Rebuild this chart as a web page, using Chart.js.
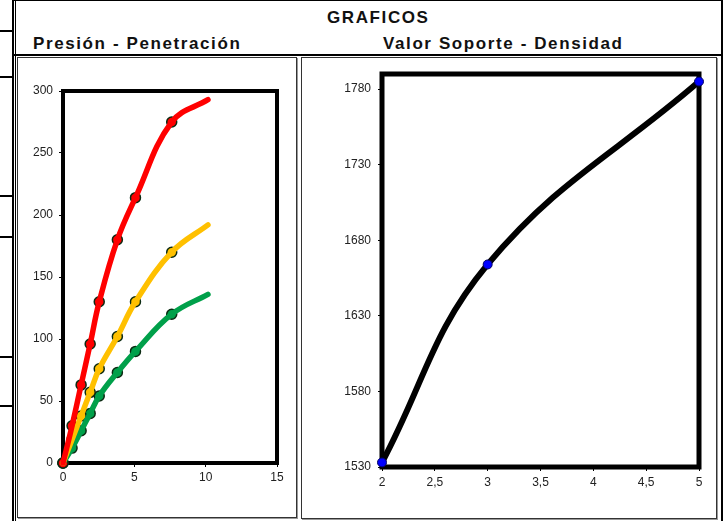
<!DOCTYPE html>
<html><head><meta charset="utf-8">
<script src="https://cdn.jsdelivr.net/npm/chart.js@4"></script>
<style>
body{margin:0;background:#fff;width:724px;height:521px;position:relative;overflow:hidden;font-family:"Liberation Sans",Arial,sans-serif;}
.a{position:absolute;}
.ln{position:absolute;background:#000;}
.t{position:absolute;font-weight:bold;font-size:17px;letter-spacing:1.6px;color:#111;white-space:nowrap;line-height:18px;}
.frame{position:absolute;border:1px solid #333;box-shadow:1px 1px 0 #999;box-sizing:border-box;}
</style></head><body>
<!-- sheet lines -->
<div class="ln" style="left:12px;top:0;width:2px;height:521px"></div>
<div class="ln" style="left:15px;top:0;width:1px;height:521px"></div>
<div class="ln" style="left:721px;top:0;width:2px;height:521px"></div>
<div class="ln" style="left:14px;top:0;width:709px;height:1px"></div>
<div class="ln" style="left:14px;top:54px;width:708px;height:2px"></div>
<div class="ln" style="left:0;top:30px;width:13px;height:2px"></div>
<div class="ln" style="left:0;top:76px;width:13px;height:2px"></div>
<div class="ln" style="left:0;top:195px;width:13px;height:2px"></div>
<div class="ln" style="left:0;top:236px;width:13px;height:2px"></div>
<div class="ln" style="left:0;top:356px;width:13px;height:2px"></div>
<div class="ln" style="left:0;top:405px;width:13px;height:2px"></div>
<div class="t" style="left:327px;top:9px">GRAFICOS</div>
<div class="t" style="left:33px;top:35px">Presión - Penetración</div>
<div class="t" style="left:383px;top:35px">Valor Soporte - Densidad</div>
<div class="frame" style="left:17px;top:57px;width:280px;height:461px"></div>
<div class="frame" style="left:301px;top:57px;width:416px;height:462px"></div>
<canvas id="c1" class="a" width="278" height="458" style="left:18px;top:58px;width:278px;height:458px"></canvas>
<canvas id="c2" class="a" width="414" height="459" style="left:302px;top:58px;width:414px;height:459px"></canvas>
<script>
// ---- Data: Presión - Penetración ----
const penetracion = [0, 0.635, 1.27, 1.905, 2.54, 3.81, 5.08, 7.62, 10.16];
const presionRoja = [0, 30, 63, 96, 130, 180, 214, 275, 293];
const presionAmarilla = [0, 19, 38, 57, 76, 102, 130, 170, 192];
const presionVerde = [0, 12, 26, 40, 54, 73, 90, 120, 136];
// ---- Data: Valor Soporte - Densidad ----
const valorSoporte = [2, 3, 5];
const densidad = [1533, 1664, 1785];
const densidadTicks = [1530, 1580, 1630, 1680, 1730, 1780];

Chart.defaults.font.family = '"Liberation Sans", Arial, sans-serif';
Chart.defaults.font.size = 12;
Chart.defaults.color = '#222';

function pts(xs, ys){ return xs.map((x,i)=>({x:x, y:ys[i]})); }

function framePlugin(w){
  return { id:'frame'+w, beforeDatasetsDraw(chart){
    const a = chart.chartArea, c = chart.ctx;
    c.save(); c.strokeStyle = '#000'; c.lineWidth = w;
    c.strokeRect(a.left, a.top, a.right - a.left, a.bottom - a.top);
    c.restore();
  }};
}
function fixW(wd){ return function(s){ s.width = wd; s.paddingLeft=s.paddingRight=s.paddingTop=s.paddingBottom=0; }; }
function fixH(h){ return function(s){ s.height = h; s.paddingLeft=s.paddingRight=s.paddingTop=s.paddingBottom=0; }; }

function lineDs(data, color){
  return {
    data: data, borderColor: color, backgroundColor: color, borderWidth: 5.5,
    borderCapStyle: 'round', borderJoinStyle: 'round',
    tension: 0.4, showLine: true,
    pointRadius: 0, order: 0, clip: false
  };
}
function markerDs(data, color){
  const last = data.length - 1;
  return {
    data: data, showLine: false, order: 1, clip: false,
    pointRadius: ctx => ctx.dataIndex === last ? 0 : 5,
    pointBackgroundColor: color, pointBorderColor: '#0b2a12', pointBorderWidth: 1.5
  };
}

const rojo = pts(penetracion, presionRoja), amarillo = pts(penetracion, presionAmarilla), verde = pts(penetracion, presionVerde);
new Chart(document.getElementById('c1'), {
  type: 'scatter',
  data: { datasets: [
    lineDs(rojo, '#ff0000'), lineDs(amarillo, '#ffc000'), lineDs(verde, '#00a04a'),
    markerDs(rojo, '#ff0000'), markerDs(amarillo, '#ffc000'), markerDs(verde, '#00a04a')
  ]},
  options: {
    responsive: false, animation: false,
    layout: { padding: { left: 0, right: 19, top: 33, bottom: 0 } },
    plugins: { legend: { display: false }, tooltip: { enabled: false } },
    scales: {
      x: { type: 'linear', min: 0, max: 15,
        ticks: { stepSize: 5, padding: 3, maxRotation: 0 },
        grid: { drawOnChartArea: false, tickLength: 4, color: '#000' },
        border: { display: false }, afterFit: fixH(53) },
      y: { type: 'linear', min: 0, max: 300,
        ticks: { stepSize: 50, padding: 6 },
        grid: { drawOnChartArea: false, tickLength: 4, color: '#000' },
        border: { display: false }, afterFit: fixW(45) }
    }
  },
  plugins: [framePlugin(4)]
});

new Chart(document.getElementById('c2'), {
  type: 'scatter',
  data: { datasets: [{
    data: pts(valorSoporte, densidad), borderColor: '#000', borderWidth: 6,
    borderCapStyle: 'round', tension: 0.4, showLine: true,
    pointRadius: 4.5, pointBackgroundColor: '#0000ff', pointBorderColor: '#000060', pointBorderWidth: 1,
    clip: false
  }]},
  options: {
    responsive: false, animation: false,
    layout: { padding: { left: 0, right: 17, top: 16, bottom: 0 } },
    plugins: { legend: { display: false }, tooltip: { enabled: false } },
    scales: {
      x: { type: 'linear', min: 2, max: 5,
        ticks: { stepSize: 0.5, padding: 4, maxRotation: 0, callback: v => String(v).replace('.', ',') },
        grid: { drawOnChartArea: false, tickLength: 4, color: '#000' },
        border: { display: false }, afterFit: fixH(50) },
      y: { type: 'linear', min: 1530, max: 1790,
        afterBuildTicks: ax => { ax.ticks = densidadTicks.map(v => ({ value: v })); },
        ticks: { padding: 7, callback: v => String(v) },
        grid: { drawOnChartArea: false, tickLength: 4, color: '#000' },
        border: { display: false }, afterFit: fixW(80) }
    }
  },
  plugins: [framePlugin(5)]
});
</script>
</body></html>
